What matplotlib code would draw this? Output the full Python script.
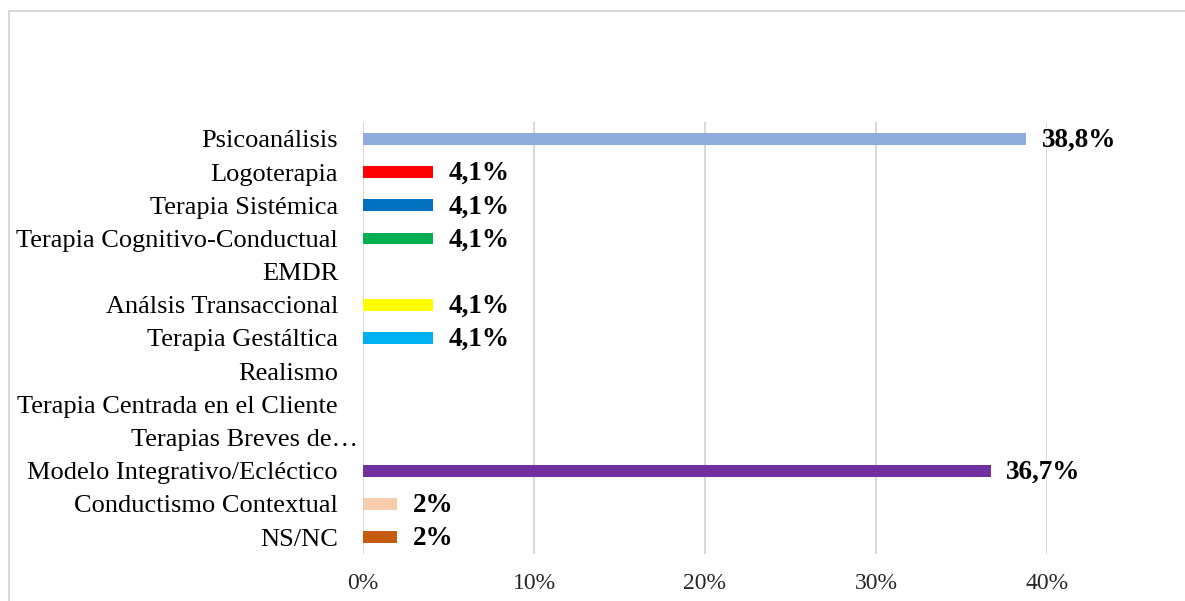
import matplotlib.pyplot as plt
from matplotlib.patches import Rectangle
from matplotlib.transforms import ScaledTranslation

# ── Datos ──────────────────────────────────────────────────────────────────
categorias = [
    "Psicoanálisis",
    "Logoterapia",
    "Terapia Sistémica",
    "Terapia Cognitivo-Conductual",
    "EMDR",
    "Análsis Transaccional",
    "Terapia Gestáltica",
    "Realismo",
    "Terapia Centrada en el Cliente",
    "Terapias Breves de…",
    "Modelo Integrativo/Ecléctico",
    "Conductismo Contextual",
    "NS/NC",
]
valores = [38.8, 4.1, 4.1, 4.1, 0, 4.1, 4.1, 0, 0, 0, 36.7, 2.0, 2.0]
etiquetas = ["38,8%", "4,1%", "4,1%", "4,1%", "", "4,1%", "4,1%", "", "", "", "36,7%", "2%", "2%"]
colores = ["#8FAADC", "#FF0000", "#0070C0", "#00B050", "#FFFFFF", "#FFFF00", "#00B0F0",
           "#FFFFFF", "#FFFFFF", "#FFFFFF", "#7030A0", "#F8CBAD", "#C55A11"]
ticks_x = [0, 10, 20, 30, 40]
# ───────────────────────────────────────────────────────────────────────────

plt.rcParams['font.family'] = ['Liberation Serif', 'DejaVu Serif']

fig = plt.figure(figsize=(11.85, 6.01), dpi=100)
ax = fig.add_axes([363 / 1185, 1 - 553.6 / 601, (1047 - 363) / 1185, (553.6 - 122.4) / 601])

pos = list(range(len(categorias)))
ax.barh(pos, valores, height=0.36, color=colores, zorder=3)

for y, v, txt in zip(pos, valores, etiquetas):
    if txt:
        ax.annotate(txt, xy=(v, y), xytext=(11, -1), textcoords="offset points",
                    ha="left", va="center", fontsize=19.5, fontweight="bold", color="black")

ax.set_xlim(0, 40)
ax.set_ylim(len(categorias) - 0.5, -0.5)
ax.set_yticks(pos)
ax.set_yticklabels(categorias, fontsize=19)
ax.set_xticks(ticks_x)
ax.set_xticklabels([f"{t}%" for t in ticks_x], fontsize=17, color="#262626")
ax.tick_params(axis="y", length=0, pad=18)
ax.tick_params(axis="x", length=0, pad=14)

# la etiqueta truncada sobresale hacia el eje, como en el original
for lbl in ax.get_yticklabels():
    if lbl.get_text().endswith("…"):
        lbl.set_transform(lbl.get_transform() + ScaledTranslation(0.2, 0, fig.dpi_scale_trans))

ax.grid(axis="x", color="#D9D9D9", linewidth=1.5, zorder=0)
ax.set_axisbelow(True)
for s in ax.spines.values():
    s.set_visible(False)

# marco del gráfico (recortado)
fig.patches.append(Rectangle((8.5 / 1185, -0.1), 1.2, 1.1 - 11 / 601,
                             transform=fig.transFigure, fill=False,
                             edgecolor="#D9D9D9", linewidth=1.5))

fig.savefig("out.png", dpi=100)
